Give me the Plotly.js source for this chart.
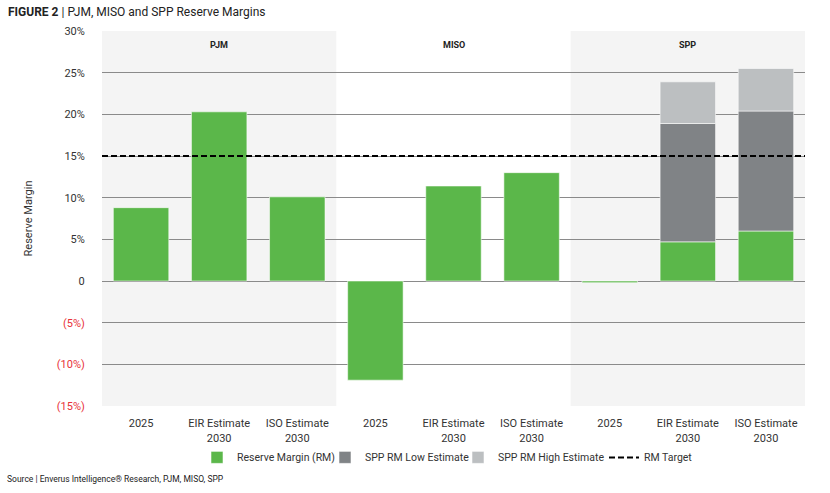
<!DOCTYPE html>
<html>
<head>
<meta charset="utf-8">
<script src="https://cdn.plot.ly/plotly-3.0.1.min.js"></script>
<style>html,body{margin:0;padding:0;background:#fff;}#chart{width:830px;height:493px;}</style>
</head>
<body>
<div id="chart"></div>
<script>
// ---- data ----
var categoryLabels = ["2025", "EIR Estimate<br>2030", "ISO Estimate<br>2030",
                      "2025", "EIR Estimate<br>2030", "ISO Estimate<br>2030",
                      "2025", "EIR Estimate<br>2030", "ISO Estimate<br>2030"];
var regions = ["PJM", "MISO", "SPP"];
var reserveMargin = [8.8, 20.3, 10.1, -11.9, 11.4, 13.0, -0.2, 4.7, 6.0];
var sppLowEstimate = [null, null, null, null, null, null, null, 18.9, 20.4];
var sppHighEstimate = [null, null, null, null, null, null, null, 23.9, 25.5];
var rmTarget = 15;
var yTickVals = [30, 25, 20, 15, 10, 5, 0, -5, -10, -15];
var yTickText = ["30%", "25%", "20%", "15%", "10%", "5%", "0",
                 "<span style='color:#e8323a'>(5%)</span>",
                 "<span style='color:#e8323a'>(10%)</span>",
                 "<span style='color:#e8323a'>(15%)</span>"];

// ---- build ----
var xPos = categoryLabels.map(function (_, i) { return i; });
var lowSeg = sppLowEstimate.map(function (v, i) { return v === null ? null : +(v - reserveMargin[i]).toFixed(2); });
var highSeg = sppHighEstimate.map(function (v, i) { return v === null ? null : +(v - sppLowEstimate[i]).toFixed(2); });

var edge = {color: "rgba(255,255,255,0.55)", width: 1};
var traces = [
  {type: "bar", name: "Reserve Margin (RM)", x: xPos, y: reserveMargin, legend: "legend",
   marker: {color: "#5bb74a", line: edge}, hoverinfo: "y"},
  {type: "bar", name: "SPP RM Low Estimate", x: xPos, y: lowSeg, legend: "legend2",
   marker: {color: "#808386", line: edge}, hoverinfo: "y"},
  {type: "bar", name: "SPP RM High Estimate", x: xPos, y: highSeg, legend: "legend3",
   marker: {color: "#bcbfc1", line: edge}, hoverinfo: "y"},
  {type: "scatter", mode: "lines", name: "RM Target", x: [-0.5, 8.5], y: [rmTarget, rmTarget], legend: "legend4",
   line: {color: "#000", width: 2, dash: "6px,3px"}, hoverinfo: "y"}
];

var shapes = [
  {type: "rect", layer: "below", xref: "x", yref: "paper", x0: -0.5, x1: 2.5, y0: 0, y1: 1,
   fillcolor: "#f4f4f4", line: {width: 0}},
  {type: "rect", layer: "below", xref: "x", yref: "paper", x0: 5.5, x1: 8.5, y0: 0, y1: 1,
   fillcolor: "#f4f4f4", line: {width: 0}}
];

var annotations = regions.map(function (r, i) {
  return {text: "<b>" + r + "</b>", x: 1 + 3 * i, xref: "x", y: 0.963, yref: "paper",
          showarrow: false, font: {size: 9, color: "#222"}, xanchor: "center", yanchor: "middle"};
});
annotations.push({text: "Source | Enverus Intelligence® Research, PJM, MISO, SPP",
  xref: "paper", yref: "paper", x: -0.138, y: -0.195, xanchor: "left", yanchor: "middle",
  showarrow: false, font: {size: 8.5, color: "#222"}});

function legendAt(px) {
  return {orientation: "h", x: (px - 102) / 703, xanchor: "left", y: -0.137, yanchor: "middle",
          font: {size: 10.5, color: "#333"}, bgcolor: "rgba(0,0,0,0)", borderwidth: 0};
}

var layout = {
  width: 830, height: 493,
  margin: {l: 102, r: 25, t: 31, b: 87},
  paper_bgcolor: "#fff", plot_bgcolor: "rgba(0,0,0,0)",
  font: {family: "Roboto, 'Liberation Sans', sans-serif", size: 11, color: "#333"},
  title: {text: "<b>FIGURE 2</b> | PJM, MISO and SPP Reserve Margins", xref: "container", x: 8 / 830,
          xanchor: "left", y: 1 - 12 / 493, yanchor: "middle", font: {size: 12, color: "#222"}},
  barmode: "relative", bargap: 0.29,
  showlegend: true,
  legend: legendAt(197),
  legend2: legendAt(325),
  legend3: legendAt(458),
  legend4: legendAt(604),
  xaxis: {range: [-0.5, 8.5], tickvals: xPos, ticktext: categoryLabels, showgrid: false,
          zeroline: false, showline: false, ticks: "outside", ticklen: 7, tickcolor: "rgba(0,0,0,0)",
          fixedrange: true},
  yaxis: {range: [-15, 30], tickvals: yTickVals, ticktext: yTickText, showgrid: true,
          gridcolor: "#8a8a8a", gridwidth: 1, zeroline: true, zerolinecolor: "#8a8a8a", zerolinewidth: 1,
          ticks: "outside", ticklen: 14, tickcolor: "rgba(0,0,0,0)",
          title: {text: "Reserve Margin", font: {size: 11, color: "#333"}, standoff: 21},
          fixedrange: true},
  shapes: shapes,
  annotations: annotations
};

Plotly.newPlot("chart", traces, layout, {displayModeBar: false, staticPlot: true});
</script>
</body>
</html>
